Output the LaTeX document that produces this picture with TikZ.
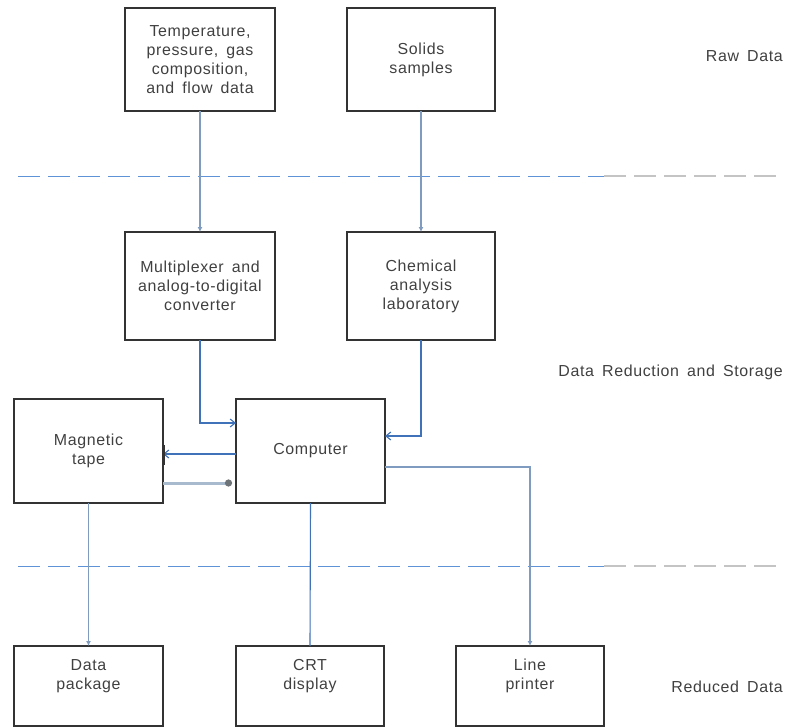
\documentclass[tikz,border=0pt]{standalone}
\usepackage{fontspec}
\setmainfont{Liberation Sans}[LetterSpace=4,WordSpace=1.6]
\usetikzlibrary{arrows.meta}
\definecolor{boxline}{HTML}{333333}
\definecolor{txt}{HTML}{404040}
\definecolor{arrowblue}{HTML}{3F72B8}
\definecolor{palearrow}{HTML}{7F9BBF}
\definecolor{thickpale}{HTML}{A8BBCE}
\definecolor{dotgrey}{HTML}{6E7378}
\definecolor{dashblue}{HTML}{5E93D8}
\definecolor{dashgrey}{HTML}{C4C4C4}
\begin{document}
\begin{tikzpicture}[x=1bp,y=-1bp,
  box/.style={draw=boxline,line width=1.8bp,inner sep=0pt,outer sep=0pt,
    align=center,text=txt,font=\fontsize{16}{19}\selectfont},
  boxtext/.style={align=center,text=txt,inner sep=0pt,font=\fontsize{16}{19}\selectfont},
  lbl/.style={text=txt,font=\fontsize{16}{19}\selectfont,inner sep=0pt,anchor=east},
  conn/.style={draw=arrowblue,line width=1.1bp},
  paleconn/.style={draw=palearrow,line width=1.1bp},
  tip/.style={-{Straight Barb[length=5bp,width=8bp,line width=1.1bp]}},
  smalltip/.style={-{Latex[length=5bp,width=5bp]}},
  sep/.style={draw=dashblue,line width=1bp,dash pattern=on 22bp off 8bp},
  sepgrey/.style={draw=dashgrey,line width=1.6bp,dash pattern=on 22bp off 8bp}
]
\useasboundingbox (0,0) rectangle (792,728);

% boxes
\node[box,minimum width=150bp,minimum height=103bp] (temp) at (200,59.5)
  {Temperature,\\pressure, gas\\composition,\\and flow data};
\node[box,minimum width=148bp,minimum height=103bp] (solids) at (421,59.5)
  {Solids\\samples};
\node[box,minimum width=150bp,minimum height=108bp] (mux) at (200,286)
  {Multiplexer and\\analog-to-digital\\converter};
\node[box,minimum width=148bp,minimum height=108bp] (chem) at (421,286)
  {Chemical\\analysis\\laboratory};
\node[box,minimum width=149bp,minimum height=104bp] (tape) at (88.5,451)
  {Magnetic\\tape};
\node[box,minimum width=149bp,minimum height=104bp] (comp) at (310.5,451)
  {Computer};
\node[box,minimum width=149bp,minimum height=80bp] (pkg) at (88.5,686) {};
\node[box,minimum width=148bp,minimum height=80bp] (crt) at (310,686) {};
\node[box,minimum width=148bp,minimum height=80bp] (lp) at (530,686) {};
\node[boxtext] (pkgt) at ([yshift=10bp]pkg.center) {Data\\package};
\node[boxtext] (crtt) at ([yshift=10bp]crt.center) {CRT\\display};
\node[boxtext] (lpt) at ([yshift=10bp]lp.center) {Line\\printer};

% side labels
\node[lbl] (raw) at (783,56) {Raw Data};
\node[lbl] (red) at (783,372) {Data Reduction and Storage};
\node[lbl] (rdd) at (783,687) {Reduced Data};

% dashed separators
\coordinate (s1a) at (18,176);
\coordinate (s1b) at (604,176);
\coordinate (s1c) at (783,176);
\coordinate (s2a) at (18,566);
\coordinate (s2b) at (604,566);
\coordinate (s2c) at (783,566);
\draw[sep] (s1a) -- (s1b);
\draw[sepgrey] (s1b) -- (s1c);
\draw[sep] (s2a) -- (s2b);
\draw[sepgrey] (s2b) -- (s2c);

% connectors
\draw[paleconn,smalltip] (temp.south) -- (mux.north);
\draw[paleconn,smalltip] (solids.south) -- (chem.north);
\draw[conn,tip] (mux.south) |- ([yshift=28bp]comp.west);
\draw[conn,tip] (chem.south) |- ([yshift=15bp]comp.east);
\draw[conn,tip] ([yshift=-3bp]comp.west) -- ([yshift=-3bp]tape.east);
\draw[boxline,line width=3bp] ([yshift=6bp]tape.east) -- ([yshift=-14bp]tape.east);
\draw[draw=thickpale,line width=3bp,-{Circle[length=7bp,color=dotgrey]}] ([yshift=-32bp]tape.east) -- ([xshift=-4bp,yshift=-32bp]comp.west);
\draw[paleconn,smalltip] (tape.south) -- (pkg.north);
\draw[conn] (comp.south) -- (crt.north);
\draw[paleconn,smalltip] ([yshift=-16bp]comp.east) -| (lp.north);
\end{tikzpicture}
\end{document}
